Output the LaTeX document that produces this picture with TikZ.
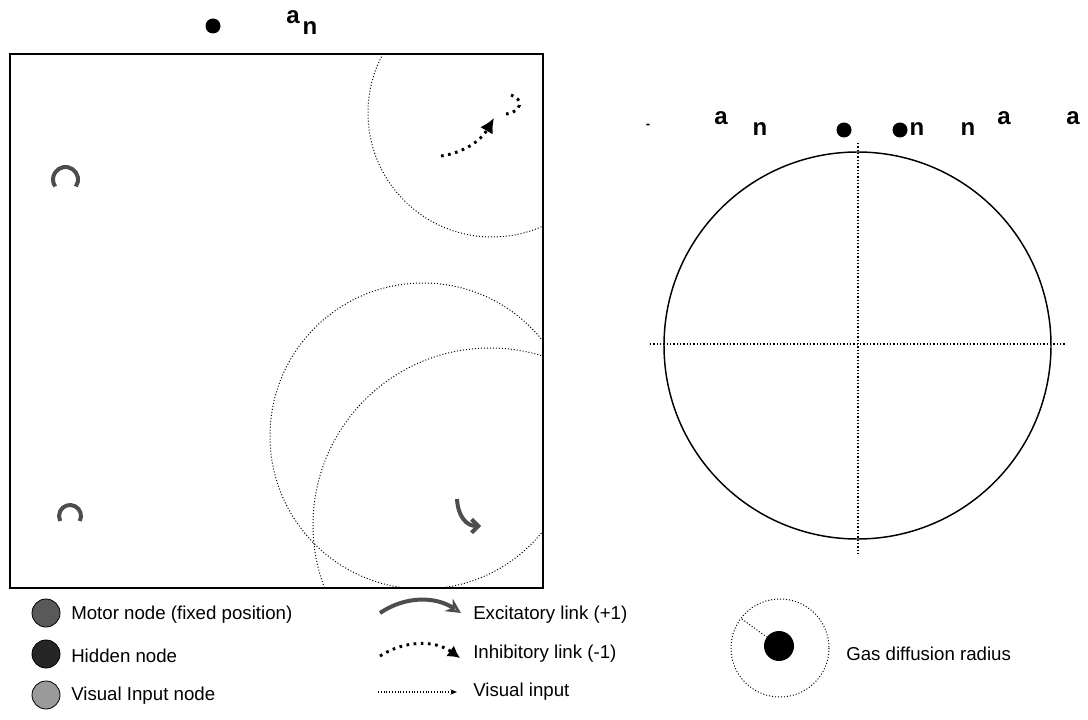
\documentclass[tikz,border=0pt]{standalone}
\usepackage{fontspec}
\setmainfont{Liberation Sans}
\usetikzlibrary{arrows.meta}

\definecolor{motorgray}{HTML}{595959}
\definecolor{hiddengray}{HTML}{262626}
\definecolor{inputgray}{HTML}{9A9A9A}
\definecolor{linkgray}{HTML}{4D4D4D}

\tikzset{
  gas/.style={line width=0.75pt, dash pattern=on 0.75pt off 1.5pt},
  cross/.style={line width=1pt, dash pattern=on 1pt off 1.5pt},
  inhib/.style={line width=2.2pt, dash pattern=on 2pt off 3.4pt},
  motorarc/.style={line width=3pt, linkgray},
  tag/.style={font=\fontsize{18}{20}\selectfont\bfseries, inner sep=0pt},
  lbl/.style={font=\fontsize{14}{16}\selectfont, anchor=west, inner sep=0pt},
  blob/.style={circle, fill=black, inner sep=0pt, minimum size=11.25pt},
  key/.style={circle, draw=black, line width=0.6pt, inner sep=0pt, minimum size=21pt}
}

\begin{document}
\begin{tikzpicture}[x=0.75pt,y=-0.75pt,>=Stealth]

% Figure frame (pixel grid)
\useasboundingbox (0,0) rectangle (1088,720);

% Arena corners
\def\ax{10}     % left
\def\ay{54}     % top
\def\aw{543}    % right
\def\ah{588}    % bottom

% Label above the arena
\node[blob] (topdot) at (213,26) {};
\node[tag] (topa) at (293,17) {a};
\node[tag] (topn) at (310,28) {n};

% Arena
\draw[line width=1.4pt] (\ax,\ay) rectangle (\aw,\ah);

% Gas clouds, clipped to the arena
\begin{scope}
  \clip (\ax,\ay) rectangle (\aw,\ah);
  \draw[gas] (492,113) circle (124);
  \draw[gas] (423,436) circle (153);
  \draw[gas] (490,525) circle (177);
\end{scope}

% Motor nodes (only their rims show)
\draw[motorarc] (65.5,179.5) ++(34:12.5) arc[start angle=34, end angle=-214, radius=12.5];
\draw[motorarc] (70,516) ++(27:11) arc[start angle=27, end angle=-207, radius=11];

% Links inside the arena
\draw[inhib, -{Latex[length=11pt,width=11pt]}] (441,156) .. controls (462,153) and (480,142) .. (494,118);
\draw[inhib] (511,95) .. controls (524,99) and (522,112) .. (506,114);
\draw[line width=3pt, linkgray, -{Straight Barb[length=5pt,width=10pt]}]
  (457,499) .. controls (458,516) and (466,526) .. (481,526);

% Sensor disc
\draw[line width=1.1pt] (857.5,345.5) circle (193.5);
\draw[cross] (650,344) -- (1066,344);
\draw[cross] (858,143) -- (858,556);

% Labels above the sensor disc
\node[tag, font=\fontsize{10}{12}\selectfont\bfseries] (dash) at (648,126) {-};
\node[tag] (ra1) at (721,118) {a};
\node[tag] (rn1) at (760,129) {n};
\node[blob] (rdot1) at (844,130) {};
\node[blob] (rdot2) at (900,130) {};
\node[tag] (rn2) at (917,129) {n};
\node[tag] (rn3) at (968,129) {n};
\node[tag] (ra2) at (1004,118) {a};
\node[tag] (ra3) at (1073,118) {a};

% Legend: node kinds
\node[key, fill=motorgray] (motorkey) at (46,613) {};
\node[key, fill=hiddengray] (hiddenkey) at (46,654) {};
\node[key, fill=inputgray] (inputkey) at (46,695) {};
\node[lbl] (motorlbl) at (71,615) {Motor node (fixed position)};
\node[lbl] (hiddenlbl) at (71,656) {Hidden node};
\node[lbl] (inputlbl) at (71,696) {Visual Input node};

% Legend: link kinds
\draw[line width=3pt, linkgray, -{Stealth[open, fill=white, length=11pt, width=11pt]}]
  (380,613) .. controls (405,596) and (435,596) .. (461,613);
\draw[inhib, -{Latex[length=9pt,width=10pt]}]
  (380,656) .. controls (405,640) and (435,640) .. (460,658);
\draw[line width=1pt, dash pattern=on 0.8pt off 1.3pt, -{Stealth[length=5pt,width=4pt]}]
  (378,692) -- (457,692);
\node[lbl] (exclbl) at (473,615) {Excitatory link (+1)};
\node[lbl] (inhlbl) at (473,654) {Inhibitory link (-1)};
\node[lbl] (vislbl) at (473,692) {Visual input};

% Legend: gas radius
\draw[gas] (780,648) circle (49);
\node[blob, minimum size=22.5pt] (gaskey) at (779,646) {};
\coordinate (gasrim) at (742,619);
\draw[gas] (gasrim) -- (gaskey);
\node[lbl] (gaslbl) at (846,654) {Gas diffusion radius};

\end{tikzpicture}
\end{document}
